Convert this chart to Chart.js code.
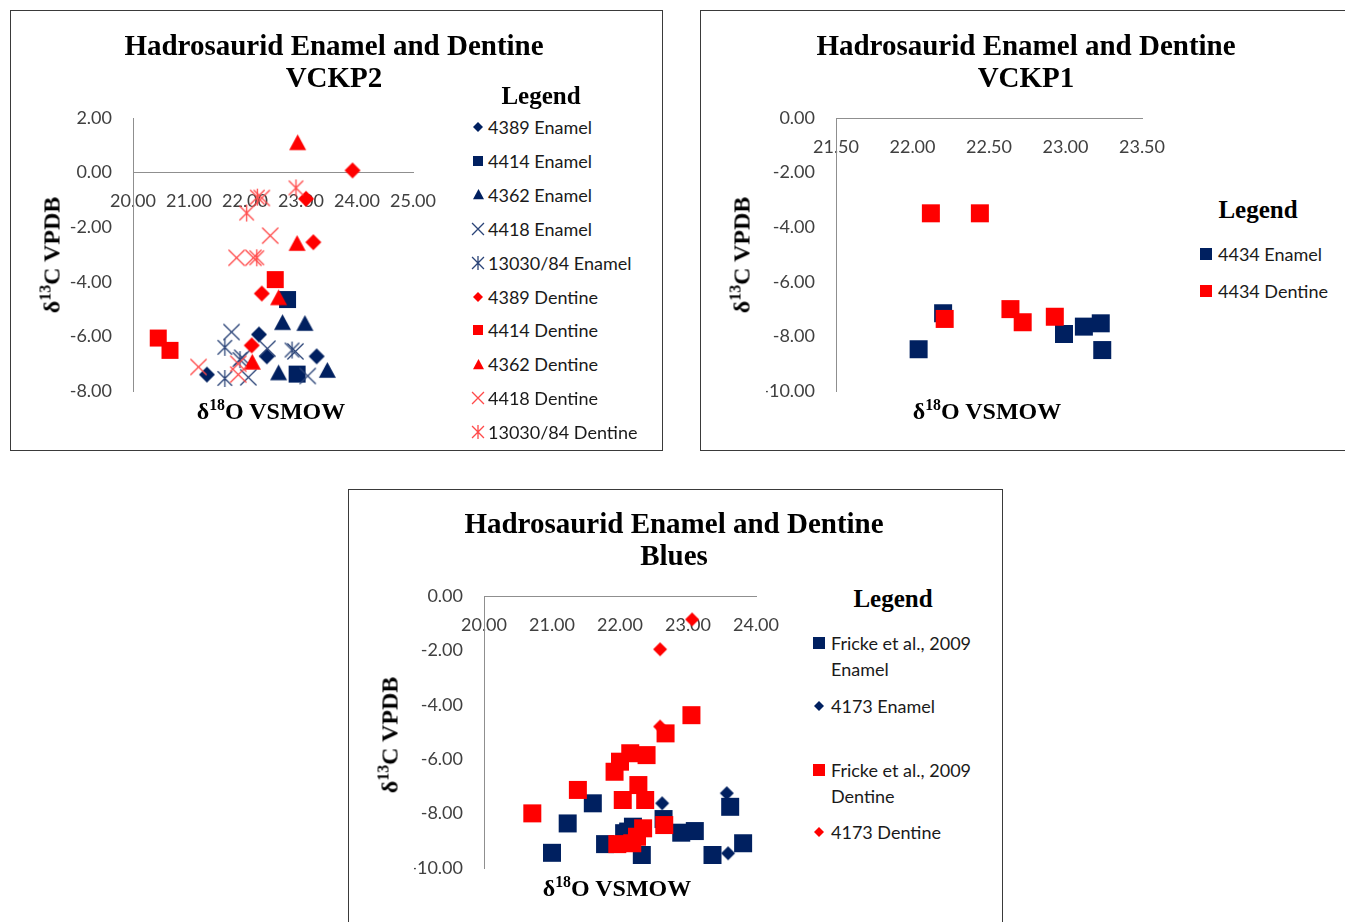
<!DOCTYPE html>
<html>
<head>
<meta charset="utf-8">
<script src="https://cdn.jsdelivr.net/npm/chart.js@4.4.1/dist/chart.umd.min.js"></script>
<style>
body { margin: 0; background: #fff; }
#page { position: relative; width: 1345px; height: 922px; overflow: hidden; background: #fff; }
.panel { position: absolute; border: 1px solid #3a3a3a; box-sizing: border-box; }
canvas.cv { position: absolute; }
.txt { position: absolute; transform: translate(-50%, -50%); white-space: nowrap; color: #000; }
.title { font: bold 29px "Liberation Serif"; line-height: 32px; text-align: center; }
.axis { font: bold 24px "Liberation Serif"; }
.vert { transform: translate(-50%, -50%) rotate(-90deg); }
.leghead { font: bold 25px "Liberation Serif"; }
.legitem { position: absolute; font: 18px Lato; color: #1a1a1a; white-space: nowrap; line-height: 26px; }
.legmark { position: absolute; }
sup { font-size: 0.66em; line-height: 0; vertical-align: 0.55em; }
</style>
</head>
<body>
<div id="page">
  <div class="panel" style="left:10px;top:10px;width:653px;height:441px"></div>
  <div class="panel" style="left:700px;top:10px;width:700px;height:441px"></div>
  <div class="panel" style="left:348px;top:489px;width:655px;height:500px"></div>
  <canvas id="vckp2" class="cv"></canvas>
  <canvas id="vckp1" class="cv"></canvas>
  <canvas id="blues" class="cv"></canvas>
</div>
<script>
// ---- data: [d18O VSMOW, d13C VPDB] ----
// VCKP2
const vckp2Enamel4389 = [[21.32, -7.40], [22.25, -5.93], [22.39, -6.73], [23.28, -6.73]];
const vckp2Enamel4414 = [[22.76, -4.65], [22.93, -7.38]];
const vckp2Enamel4362 = [[22.67, -5.50], [23.07, -5.53], [22.60, -7.34], [23.47, -7.25]];
const vckp2Enamel4418 = [[21.76, -5.84], [21.95, -6.78], [22.06, -7.50], [22.40, -6.45], [22.90, -6.55], [23.12, -7.45]];
const vckp2Enamel13030 = [[21.64, -6.40], [21.64, -7.54], [21.91, -6.85], [22.84, -6.50]];
const vckp2Dentine4389 = [[23.92, 0.08], [23.09, -0.96], [23.22, -2.55], [22.30, -4.43], [22.12, -6.33]];
const vckp2Dentine4414 = [[22.54, -3.92], [20.45, -6.06], [20.66, -6.51]];
const vckp2Dentine4362 = [[22.94, 1.09], [22.93, -2.60], [22.60, -4.59], [22.13, -6.95]];
const vckp2Dentine4418 = [[22.30, -0.93], [22.45, -2.31], [21.85, -3.12], [22.15, -3.12], [21.17, -7.12], [21.88, -7.00], [21.88, -7.40]];
const vckp2Dentine13030 = [[22.91, -0.56], [22.22, -0.90], [22.03, -1.48], [22.21, -3.12]];
const vckp2XTicks = [20, 21, 22, 23, 24, 25];
const vckp2YTicks = [-8, -6, -4, -2, 0, 2];

// VCKP1
const vckp1Enamel4434 = [[22.04, -8.47], [22.20, -7.15], [22.99, -7.91], [23.12, -7.64], [23.23, -7.52], [23.24, -8.50]];
const vckp1Dentine4434 = [[22.12, -3.49], [22.44, -3.49], [22.21, -7.36], [22.64, -7.00], [22.72, -7.48], [22.93, -7.28]];
const vckp1XTicks = [21.5, 22, 22.5, 23, 23.5];
const vckp1YTicks = [-10, -8, -6, -4, -2, 0];

// Blues
const bluesFrickeEnamel = [[21.00, -9.44], [21.23, -8.36], [21.60, -7.62], [21.78, -9.12], [22.06, -8.72], [22.12, -8.66],
  [22.19, -8.48], [22.32, -9.52], [22.64, -8.20], [22.90, -8.70], [23.10, -8.64], [23.36, -9.52], [23.62, -7.75], [23.81, -9.09]];
const bluesEnamel4173 = [[22.62, -7.62], [23.57, -7.25], [23.59, -9.46]];
const bluesFrickeDentine = [[20.71, -7.99], [21.38, -7.13], [21.92, -6.46], [22.00, -6.09], [22.15, -5.78], [22.39, -5.85],
  [22.27, -6.95], [22.04, -7.50], [22.37, -7.50], [22.34, -8.54], [22.65, -8.42], [21.96, -9.12], [22.18, -9.09],
  [22.25, -8.85], [22.67, -5.05], [23.05, -4.38]];
const bluesDentine4173 = [[23.06, -0.86], [22.59, -1.96], [22.59, -4.80]];
const bluesXTicks = [20, 21, 22, 23, 24];
const bluesYTicks = [-10, -8, -6, -4, -2, 0];

const NAVY = '#002060';
const RED = '#ff0000';
const NAVY_LINE = '#2b4478';
const RED_LINE = '#ff4a4a';
const YW = 70;   // fixed width of the y axis box
const VPAD = 34; // room above/below the plot (must beat half a label + tick padding)

// draws one marker into a small canvas (used as pointStyle and in the legends)
function marker(shape, color, size) {
  const c = document.createElement('canvas');
  const full = Math.ceil(size) + 4;
  c.width = full; c.height = full;
  const g = c.getContext('2d');
  const m = full / 2, r = size / 2;
  g.fillStyle = color;
  g.strokeStyle = color;
  g.lineWidth = 1.3;
  g.beginPath();
  if (shape === 'square') {
    g.fillRect(m - r, m - r, size, size);
  } else if (shape === 'diamond') {
    g.moveTo(m, m - r); g.lineTo(m + r, m); g.lineTo(m, m + r); g.lineTo(m - r, m);
    g.closePath(); g.fill();
  } else if (shape === 'triangle') {
    g.moveTo(m, m - r); g.lineTo(m + r, m + r * 0.85); g.lineTo(m - r, m + r * 0.85);
    g.closePath(); g.fill();
  } else if (shape === 'x' || shape === 'asterisk') {
    const k = r * 0.85;
    g.moveTo(m - k, m - k); g.lineTo(m + k, m + k);
    g.moveTo(m - k, m + k); g.lineTo(m + k, m - k);
    if (shape === 'asterisk') { g.moveTo(m, m - r); g.lineTo(m, m + r); }
    g.stroke();
  }
  return c;
}

function place(html, x, y, cls) {
  const d = document.createElement('div');
  d.className = 'txt ' + cls;
  d.innerHTML = html;
  d.style.left = x + 'px';
  d.style.top = y + 'px';
  document.getElementById('page').appendChild(d);
  return d;
}

function legendRow(x, y, mark, lines, textX) {
  const page = document.getElementById('page');
  mark.className = 'legmark';
  mark.style.left = (x - mark.width / 2) + 'px';
  mark.style.top = (y - mark.height / 2) + 'px';
  page.appendChild(mark);
  const t = document.createElement('div');
  t.className = 'legitem';
  t.innerHTML = lines.join('<br>');
  t.style.left = textX + 'px';
  t.style.top = (y - 13) + 'px';
  page.appendChild(t);
}

// plot = wanted chart area in page pixels; padL/padR = extra canvas room left/right
function scatterPanel(id, plot, padL, padR, xTicks, yTicks, series) {
  const box = {
    x: plot.l - YW - padL,
    y: plot.t - VPAD,
    w: YW + padL + (plot.r - plot.l) + padR,
    h: (plot.b - plot.t) + 2 * VPAD
  };
  const cv = document.getElementById(id);
  cv.width = box.w; cv.height = box.h;
  cv.style.left = box.x + 'px'; cv.style.top = box.y + 'px';
  cv.style.width = box.w + 'px'; cv.style.height = box.h + 'px';

  const tickFont = { family: 'Lato', size: 18 };
  const fmt = v => Number(v).toFixed(2);

  return new Chart(cv, {
    type: 'scatter',
    data: {
      datasets: series.map(s => ({
        label: s.label,
        data: s.pts.map(p => ({ x: p[0], y: p[1] })),
        pointStyle: s.img,
        pointRadius: 9,
        pointHoverRadius: 9,
        order: s.order,
        clip: false
      }))
    },
    options: {
      responsive: false,
      animation: false,
      devicePixelRatio: 1,
      layout: { padding: { left: padL, right: padR, top: VPAD, bottom: VPAD } },
      plugins: { legend: { display: false }, tooltip: { enabled: false } },
      scales: {
        x: {
          type: 'linear',
          min: xTicks[0],
          max: xTicks[xTicks.length - 1],
          position: { y: 0 },
          grid: { display: false, drawTicks: false },
          border: { display: true, color: '#8f8f8f', width: 1 },
          ticks: { padding: 18, autoSkip: false, maxRotation: 0, font: tickFont, color: '#404040', callback: fmt },
          afterBuildTicks: s => { s.ticks = xTicks.map(v => ({ value: v })); },
          afterFit: s => { s.height = 0; }
        },
        y: {
          type: 'linear',
          position: 'left',
          min: yTicks[0],
          max: yTicks[yTicks.length - 1],
          grid: { display: false, drawTicks: false },
          border: { display: true, color: '#8f8f8f', width: 1 },
          ticks: { padding: 21, autoSkip: false, font: tickFont, color: '#404040', callback: fmt },
          afterBuildTicks: s => { s.ticks = yTicks.map(v => ({ value: v })); },
          afterFit: s => { s.width = YW; }
        }
      }
    }
  });
}

document.addEventListener('DOMContentLoaded', function() {
  // ---------- VCKP2 ----------
  scatterPanel('vckp2', { l: 133, r: 413, t: 118, b: 391 }, 23, 50, vckp2XTicks, vckp2YTicks, [
    { label: '4389 Enamel', pts: vckp2Enamel4389, img: marker('diamond', NAVY, 16), order: 9 },
    { label: '4414 Enamel', pts: vckp2Enamel4414, img: marker('square', NAVY, 17), order: 8 },
    { label: '4362 Enamel', pts: vckp2Enamel4362, img: marker('triangle', NAVY, 17), order: 7 },
    { label: '4418 Enamel', pts: vckp2Enamel4418, img: marker('x', NAVY_LINE, 19), order: 6 },
    { label: '13030/84 Enamel', pts: vckp2Enamel13030, img: marker('asterisk', NAVY_LINE, 17), order: 5 },
    { label: '4389 Dentine', pts: vckp2Dentine4389, img: marker('diamond', RED, 16), order: 4 },
    { label: '4414 Dentine', pts: vckp2Dentine4414, img: marker('square', RED, 17), order: 3 },
    { label: '4362 Dentine', pts: vckp2Dentine4362, img: marker('triangle', RED, 17), order: 2 },
    { label: '4418 Dentine', pts: vckp2Dentine4418, img: marker('x', RED_LINE, 19), order: 1 },
    { label: '13030/84 Dentine', pts: vckp2Dentine13030, img: marker('asterisk', RED_LINE, 17), order: 0 }
  ]);
  place('Hadrosaurid Enamel and Dentine<br>VCKP2', 334, 61, 'title');
  place('&delta;<sup>13</sup>C VPDB', 52, 255, 'axis vert');
  place('&delta;<sup>18</sup>O VSMOW', 271, 411, 'axis');
  place('Legend', 541, 96, 'leghead');
  const leg2 = [
    ['diamond', NAVY, 10, '4389 Enamel'], ['square', NAVY, 10, '4414 Enamel'], ['triangle', NAVY, 11, '4362 Enamel'],
    ['x', NAVY_LINE, 14, '4418 Enamel'], ['asterisk', NAVY_LINE, 14, '13030/84 Enamel'],
    ['diamond', RED, 10, '4389 Dentine'], ['square', RED, 10, '4414 Dentine'], ['triangle', RED, 11, '4362 Dentine'],
    ['x', RED_LINE, 14, '4418 Dentine'], ['asterisk', RED_LINE, 14, '13030/84 Dentine']
  ];
  leg2.forEach((it, i) => legendRow(478, 127 + i * 33.9, marker(it[0], it[1], it[2]), [it[3]], 488));

  // ---------- VCKP1 ----------
  scatterPanel('vckp1', { l: 836, r: 1142, t: 118, b: 391 }, 46, 50, vckp1XTicks, vckp1YTicks, [
    { label: '4434 Enamel', pts: vckp1Enamel4434, img: marker('square', NAVY, 18), order: 1 },
    { label: '4434 Dentine', pts: vckp1Dentine4434, img: marker('square', RED, 18), order: 0 }
  ]);
  place('Hadrosaurid Enamel and Dentine<br>VCKP1', 1026, 61, 'title');
  place('&delta;<sup>13</sup>C VPDB', 742, 255, 'axis vert');
  place('&delta;<sup>18</sup>O VSMOW', 987, 411, 'axis');
  place('Legend', 1258, 210, 'leghead');
  legendRow(1206, 254, marker('square', NAVY, 12), ['4434 Enamel'], 1218);
  legendRow(1206, 291, marker('square', RED, 12), ['4434 Dentine'], 1218);

  // ---------- Blues ----------
  scatterPanel('blues', { l: 484, r: 756, t: 596, b: 868 }, 34, 50, bluesXTicks, bluesYTicks, [
    { label: 'Fricke et al., 2009 Enamel', pts: bluesFrickeEnamel, img: marker('square', NAVY, 18), order: 2 },
    { label: '4173 Enamel', pts: bluesEnamel4173, img: marker('diamond', NAVY, 14), order: 3 },
    { label: 'Fricke et al., 2009 Dentine', pts: bluesFrickeDentine, img: marker('square', RED, 18), order: 0 },
    { label: '4173 Dentine', pts: bluesDentine4173, img: marker('diamond', RED, 14), order: 1 }
  ]);
  place('Hadrosaurid Enamel and Dentine<br>Blues', 674, 539, 'title');
  place('&delta;<sup>13</sup>C VPDB', 390, 735, 'axis vert');
  place('&delta;<sup>18</sup>O VSMOW', 617, 888, 'axis');
  place('Legend', 893, 599, 'leghead');
  legendRow(819, 643, marker('square', NAVY, 12), ['Fricke et al., 2009', 'Enamel'], 831);
  legendRow(819, 706, marker('diamond', NAVY, 10), ['4173 Enamel'], 831);
  legendRow(819, 770, marker('square', RED, 12), ['Fricke et al., 2009', 'Dentine'], 831);
  legendRow(819, 832, marker('diamond', RED, 10), ['4173 Dentine'], 831);
});
</script>
</body>
</html>
